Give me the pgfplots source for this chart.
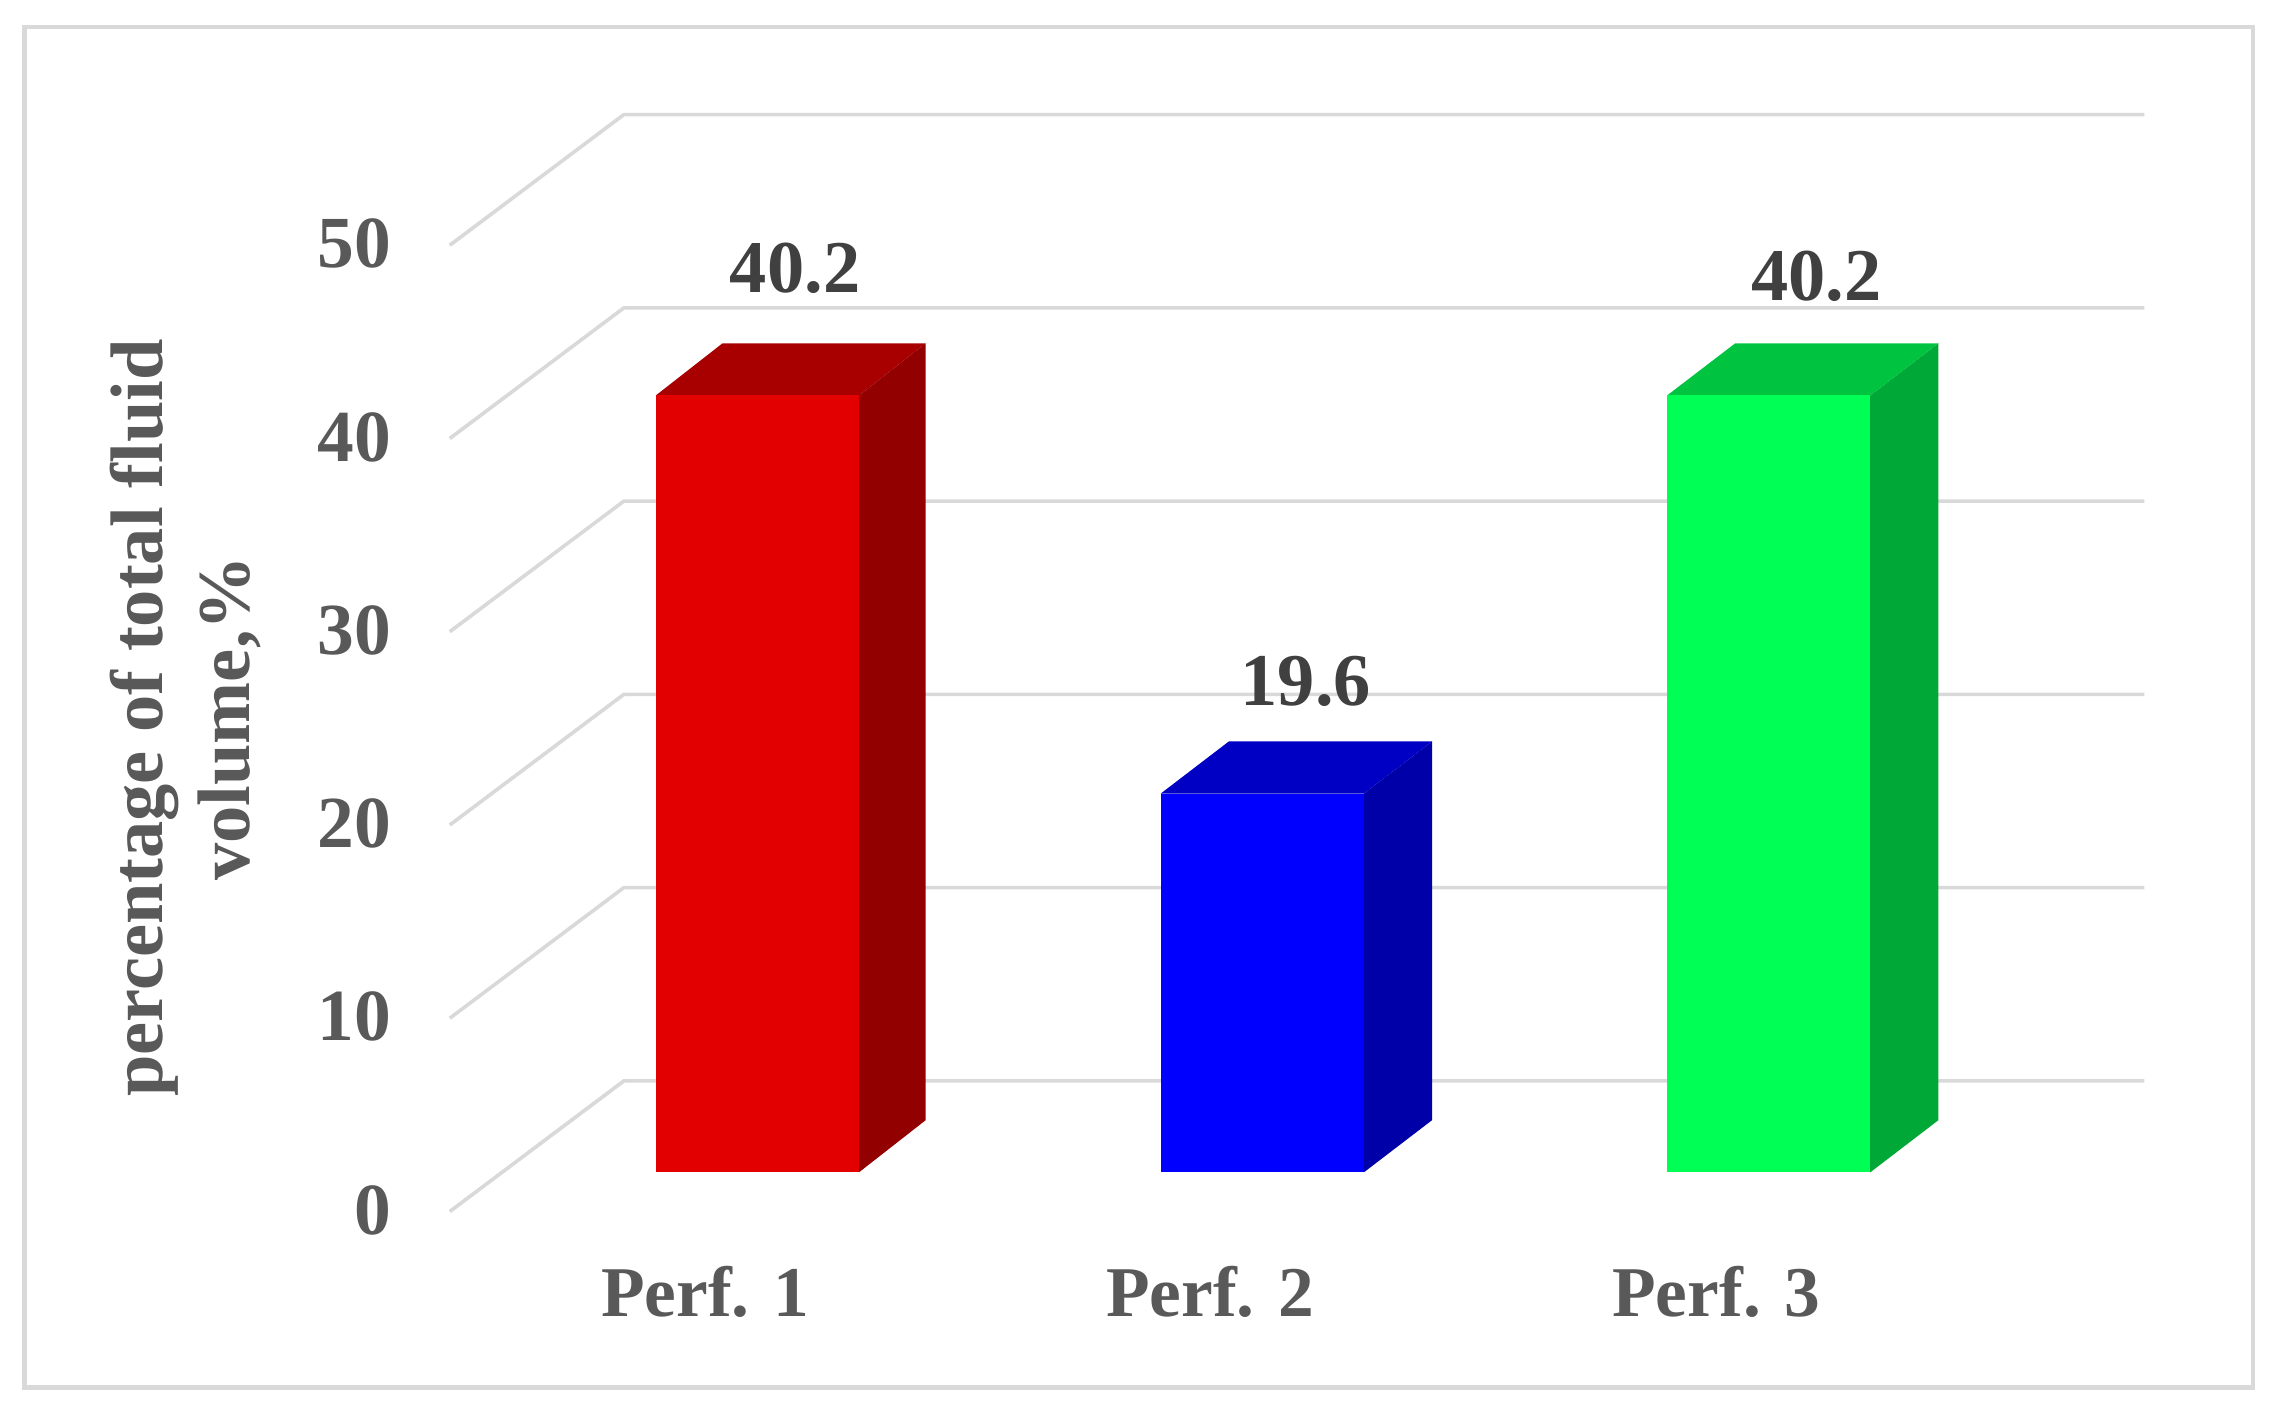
\documentclass[border=0pt]{standalone}
\usepackage{pgfplots}
\pgfplotsset{compat=1.18}
\usepackage{fontspec}
\setmainfont{Liberation Serif}
\definecolor{gridcol}{RGB}{217,217,217}
\definecolor{labcol}{RGB}{89,89,89}
\definecolor{valcol}{RGB}{64,64,64}
\definecolor{redfront}{RGB}{226,0,0}
\definecolor{redside}{RGB}{146,0,0}
\definecolor{redtop}{RGB}{168,0,0}
\definecolor{bluefront}{RGB}{0,0,255}
\definecolor{blueside}{RGB}{0,0,168}
\definecolor{bluetop}{RGB}{0,0,196}
\definecolor{greenfront}{RGB}{0,255,85}
\definecolor{greenside}{RGB}{0,168,56}
\definecolor{greentop}{RGB}{0,196,64}
% x is in px of the shrunk picture, 1 px = 0.01cm
\pgfplotsset{common/.style={
  scale only axis, width=11.68cm, height=6.66cm,
  xmin=310, xmax=1478, ymin=0, ymax=50, clip=false,
  /pgf/number format/assume math mode=true,
}}
\begin{document}
\begin{tikzpicture}
% walls, ticks and labels
\begin{axis}[common,
  name=walls,
  axis line style={draw=none},
  major tick length=0pt,
  ytick={0,10,20,30,40,50},
  xtick={486,834,1183},
  xticklabels={Perf. 1,Perf. 2,Perf. 3},
  tick label style={font=\fontsize{14.4}{16}\selectfont\bfseries, text=labcol},
  yticklabel style={xshift=-0.28cm, yshift=0.01cm},
  xticklabel style={yshift=-0.25cm, font=\fontsize{14}{16}\selectfont\bfseries},
  ylabel={percentage of total fluid\\volume,\%},
  ylabel style={align=center, font=\fontsize{14.6}{17}\selectfont\bfseries, text=labcol, yshift=0.15cm, xshift=0.07cm},
]
\path[draw=gridcol, line width=0.03cm] (axis cs:17,-9.1) rectangle (axis cs:1553,61.3);
\path (axis cs:0,-10.51) rectangle (axis cs:1568,62.69);
\pgfplotsinvokeforeach{0,10,20,30,40,50}{
  \addplot[gridcol, line width=0.025cm] coordinates {(310,#1)(430,#1+6.76)(1478,#1+6.76)};
}
\end{axis}
% bars, their floor sits 27 px above the axis zero of the walls
\begin{axis}[common, hide axis, at={(walls.origin)}, yshift=0.27cm]
\addplot[fill=redside, draw=none] coordinates {(592,0)(638,2.7)(638,42.9)(592,40.2)} -- cycle;
\addplot[fill=redtop, draw=none] coordinates {(452,40.2)(592,40.2)(638,42.9)(498,42.9)} -- cycle;
\addplot[ybar, bar width=1.4cm, fill=redfront, draw=none, nodes near coords,
  every node near coord/.style={anchor=center, xshift=0.26cm, yshift=0.88cm, font=\fontsize{14.6}{16}\selectfont\bfseries, text=valcol}]
  coordinates {(522,40.2)};
\addplot[fill=blueside, draw=none] coordinates {(940,0)(987,2.7)(987,22.3)(940,19.6)} -- cycle;
\addplot[fill=bluetop, draw=none] coordinates {(800,19.6)(940,19.6)(987,22.3)(847,22.3)} -- cycle;
\addplot[ybar, bar width=1.4cm, fill=bluefront, draw=none, nodes near coords,
  every node near coord/.style={anchor=center, xshift=0.30cm, yshift=0.77cm, font=\fontsize{14.6}{16}\selectfont\bfseries, text=valcol}]
  coordinates {(870,19.6)};
\addplot[fill=greenside, draw=none] coordinates {(1289,0)(1336,2.7)(1336,42.9)(1289,40.2)} -- cycle;
\addplot[fill=greentop, draw=none] coordinates {(1149,40.2)(1289,40.2)(1336,42.9)(1196,42.9)} -- cycle;
\addplot[ybar, bar width=1.4cm, fill=greenfront, draw=none, nodes near coords,
  every node near coord/.style={anchor=center, xshift=0.33cm, yshift=0.82cm, font=\fontsize{14.6}{16}\selectfont\bfseries, text=valcol}]
  coordinates {(1219,40.2)};
\end{axis}
\end{tikzpicture}
\end{document}
